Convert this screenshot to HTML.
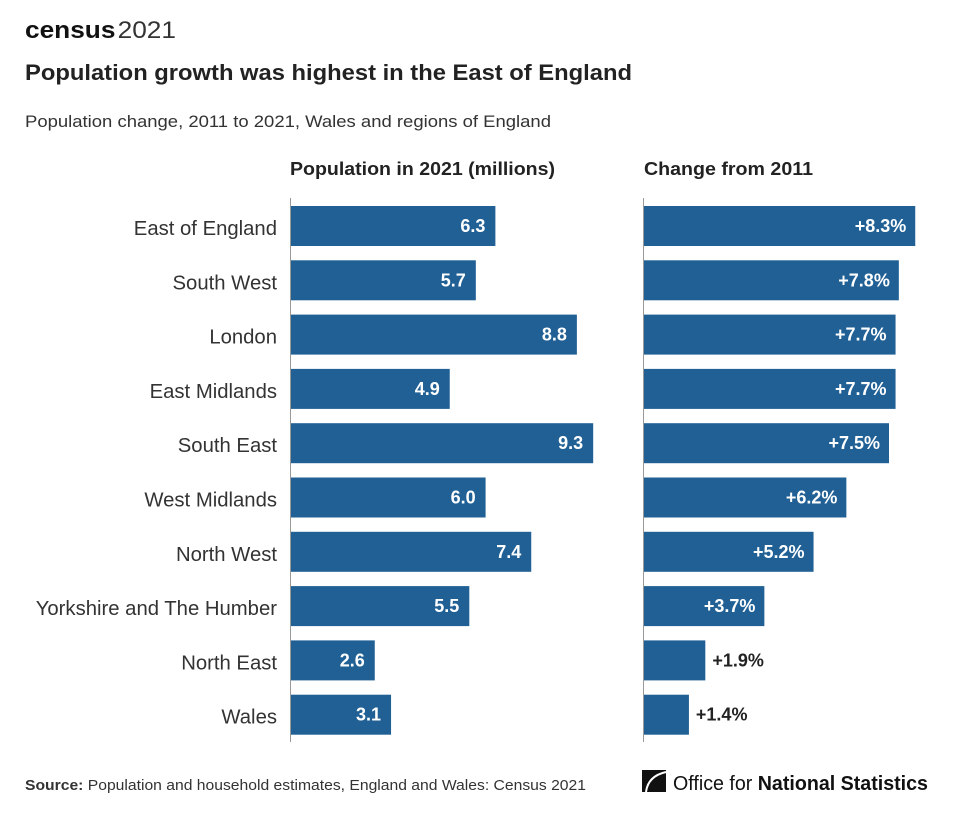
<!DOCTYPE html>
<html><head><meta charset="utf-8"><style>
body{margin:0;background:#fff;width:953px;height:813px;overflow:hidden;font-family:"Liberation Sans",sans-serif;}
svg text{font-family:"Liberation Sans",sans-serif;}
</style></head><body>
<svg width="953" height="813">
<text x="25" y="38" font-size="24" font-weight="bold" fill="#111" textLength="151" lengthAdjust="spacingAndGlyphs">census<tspan font-weight="normal" fill="#333" dx="2">2021</tspan></text>
<text x="25" y="80" font-size="22" font-weight="bold" fill="#222" textLength="607" lengthAdjust="spacingAndGlyphs">Population growth was highest in the East of England</text>
<text x="25" y="127" font-size="17" fill="#333" textLength="526" lengthAdjust="spacingAndGlyphs">Population change, 2011 to 2021, Wales and regions of England</text>
<text x="290" y="175" font-size="18" font-weight="bold" fill="#222" textLength="265" lengthAdjust="spacingAndGlyphs">Population in 2021 (millions)</text>
<text x="644" y="175" font-size="18" font-weight="bold" fill="#222" textLength="169" lengthAdjust="spacingAndGlyphs">Change from 2011</text>
<g id="bars"></g>
<line x1="290.5" y1="198" x2="290.5" y2="742" stroke="#999"/>
<line x1="643.5" y1="198" x2="643.5" y2="742" stroke="#999"/>
<text x="25" y="790" font-size="15" fill="#333" textLength="561" lengthAdjust="spacingAndGlyphs"><tspan font-weight="bold">Source:</tspan> Population and household estimates, England and Wales: Census 2021</text>
<g>
<rect x="642" y="770" width="24" height="22" fill="#111"/>
<path d="M666 772 Q648 776 646 792" stroke="#fff" stroke-width="2" fill="none"/>
<text x="673" y="790" font-size="20" fill="#111" textLength="255" lengthAdjust="spacingAndGlyphs">Office for <tspan font-weight="bold">National Statistics</tspan></text>
</g>
</svg>
<script>
const regions=["East of England","South West","London","East Midlands","South East","West Midlands","North West","Yorkshire and The Humber","North East","Wales"];
const population=[6.3,5.7,8.8,4.9,9.3,6.0,7.4,5.5,2.6,3.1];
const change=[8.3,7.8,7.7,7.7,7.5,6.2,5.2,3.7,1.9,1.4];
const NS="http://www.w3.org/2000/svg";
const g=document.getElementById('bars');
const xL=v=>290+v*32.6, xR=v=>643+v*32.8, yRow=i=>206+i*54.3;
function mk(t,a){const e=document.createElementNS(NS,t);for(const k in a)e.setAttribute(k,a[k]);g.appendChild(e);return e;}
regions.forEach((r,i)=>{
 const y=yRow(i);
 const lab=mk('text',{x:277,y:y+29,'font-size':20.3,fill:'#333','text-anchor':'end'});lab.textContent=r;
 
 
 const b=mk('rect',{x:290,y:y,width:xL(population[i])-290,height:40,fill:'#206095'});
 
 
 const t=mk('text',{x:xL(population[i])-10,y:y+26,'font-size':18,'font-weight':'bold',fill:'#fff','text-anchor':'end'});t.textContent=population[i].toFixed(1);
 
 
 const w=xR(change[i])-643;
 const c=mk('rect',{x:643,y:y,width:w,height:40,fill:'#206095'});
 
 
 const inside=w>80;
 const ct=mk('text',{x:inside?xR(change[i])-9:xR(change[i])+7,y:y+26,'font-size':18,'font-weight':'bold',fill:inside?'#fff':'#222','text-anchor':inside?'end':'start'});ct.textContent='+'+change[i].toFixed(1)+'%';
 
 
});
</script>
</body></html>
